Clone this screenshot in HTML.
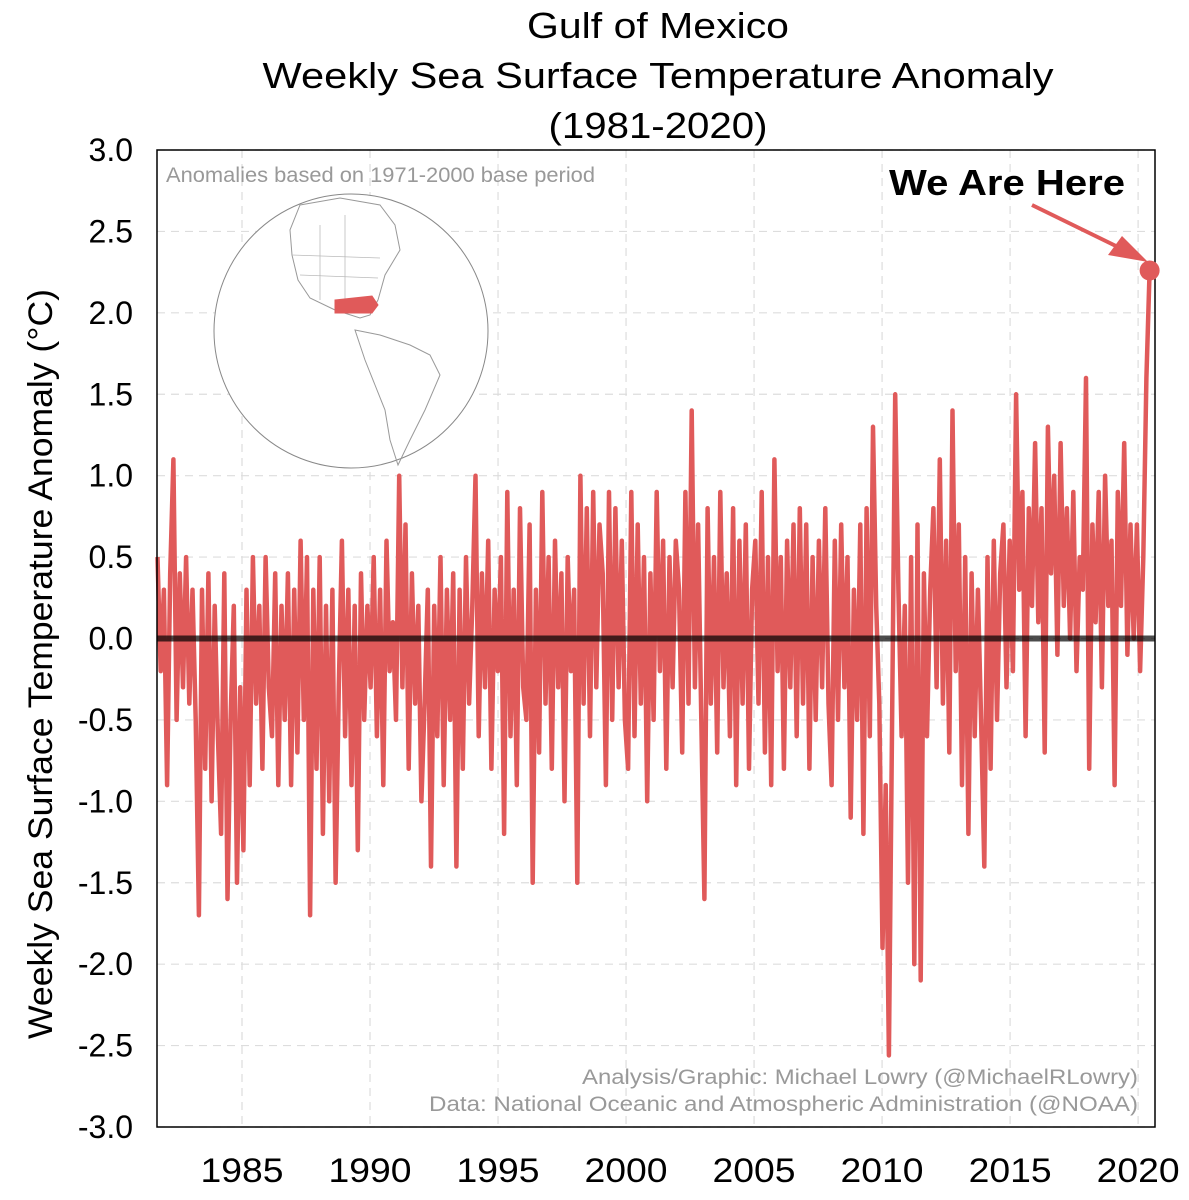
<!DOCTYPE html>
<html><head><meta charset="utf-8"><style>
body{margin:0;background:#fff;}
svg{display:block;font-family:"Liberation Sans",sans-serif;}
</style></head><body>
<svg id="chart" width="1189" height="1200">
<g font-size="36" text-anchor="middle" fill="#000">
<text x="658" y="38" textLength="262" lengthAdjust="spacingAndGlyphs">Gulf of Mexico</text>
<text x="658" y="88" textLength="791" lengthAdjust="spacingAndGlyphs">Weekly Sea Surface Temperature Anomaly</text>
<text x="658" y="138" textLength="219" lengthAdjust="spacingAndGlyphs">(1981-2020)</text>
</g>
<g id="grid"></g>
<g id="yticks"></g>
<g id="xticks"></g>
<text transform="translate(52,664) rotate(-90)" text-anchor="middle" font-size="34" textLength="750" lengthAdjust="spacingAndGlyphs">Weekly Sea Surface Temperature Anomaly (°C)</text>
<text x="166" y="182" font-size="21" fill="#999" textLength="429" lengthAdjust="spacingAndGlyphs">Anomalies based on 1971-2000 base period</text>
<g>
<circle cx="351" cy="331" r="137" fill="#fff" stroke="#888" stroke-width="1"/>
<path d="M300,205 L340,198 L380,205 L395,225 L400,250 L385,275 L378,300 L370,315 L360,318 L335,310 L310,298 L298,280 L292,255 L290,230 Z" fill="none" stroke="#999" stroke-width="1"/>
<path d="M292,255 L380,258 M300,275 L378,278 M320,225 L320,300 M345,215 L345,310" stroke="#bbb" stroke-width="0.8" fill="none"/>
<path d="M355,330 L380,335 L410,345 L430,355 L440,375 L425,410 L410,440 L398,465 L390,440 L385,410 L375,385 L365,360 Z" fill="none" stroke="#999" stroke-width="1"/>
<path d="M335,300 L372,296 L378,305 L372,313 L335,313 Z" fill="#e05a5a" stroke="#e05a5a"/>
</g>
<g id="series"></g>
<line id="zero" stroke="#000" stroke-opacity="0.7" stroke-width="6"/>
<rect x="157" y="150" width="998" height="977" fill="none" stroke="#000" stroke-width="1.5"/>
<g>
<text x="1007" y="195" font-size="36" font-weight="bold" text-anchor="middle" textLength="236" lengthAdjust="spacingAndGlyphs">We Are Here</text>
<line x1="1032" y1="205" x2="1120" y2="248" stroke="#e05a5a" stroke-width="4"/>
<polygon points="1148,262 1108,255 1122,236" fill="#e05a5a"/>
</g>
<circle id="dot" r="10" fill="#e05a5a"/>
<g font-size="21" fill="#999" text-anchor="end">
<text x="1138" y="1084" textLength="556" lengthAdjust="spacingAndGlyphs">Analysis/Graphic: Michael Lowry (@MichaelRLowry)</text>
<text x="1138" y="1111" textLength="709" lengthAdjust="spacingAndGlyphs">Data: National Oceanic and Atmospheric Administration (@NOAA)</text>
</g>
</svg>
<script>
const yTickValues=[3,2.5,2,1.5,1,0.5,0,-0.5,-1,-1.5,-2,-2.5,-3];
const yTickLabels=["3.0","2.5","2.0","1.5","1.0","0.5","0.0","-0.5","-1.0","-1.5","-2.0","-2.5","-3.0"];
const xTickYears=[1985,1990,1995,2000,2005,2010,2015,2020];
const startYear=1981.7, endYear=2020.45;
const anomalies=[0.5,-0.2,0.3,-0.9,
0.4,1.1,-0.5,0.4,-0.3,0.5,-0.4,0.3,
-0.5,-1.7,0.3,-0.8,0.4,-1.0,0.2,-0.6,
-1.2,0.4,-1.6,-0.5,0.2,-1.5,-0.3,-1.3,
0.3,-0.9,0.5,-0.4,0.2,-0.8,0.5,-0.3,
-0.6,0.4,-0.9,0.2,-0.5,0.4,-0.9,0.3,
-0.7,0.6,-0.5,0.5,-1.7,0.3,-0.8,0.5,
-1.2,0.2,-1.0,0.3,-1.5,-0.3,0.6,-0.6,
0.3,-0.9,0.2,-1.3,0.4,-0.5,0.2,-0.3,
0.5,-0.6,0.3,-0.9,0.6,-0.2,0.1,-0.5,
1.0,-0.3,0.7,-0.8,0.4,-0.4,0.2,-1.0,
-0.4,0.3,-1.4,0.2,-0.6,0.5,-0.9,0.3,
-0.5,0.4,-1.4,0.3,-0.8,0.5,-0.4,0.2,
1.0,-0.6,0.4,-0.3,0.6,-0.8,0.3,-0.2,
0.5,-1.2,0.9,-0.6,0.3,-0.9,0.8,-0.3,
-0.5,0.7,-1.5,0.3,-0.7,0.9,-0.4,0.5,
-0.8,0.6,-0.3,0.4,-1.0,0.5,-0.2,0.3,
-1.5,1.0,-0.4,0.8,-0.6,0.9,-0.3,0.7,
0.4,-0.9,0.9,-0.5,0.8,-0.3,0.6,-0.5,
-0.8,0.9,-0.6,0.7,-0.4,0.5,-1.0,0.4,
-0.5,0.9,-0.2,0.6,-0.8,0.5,-0.3,0.6,
0.3,-0.7,0.9,-0.4,1.4,-0.3,0.7,-0.5,
-1.6,0.8,-0.4,0.5,-0.7,0.9,-0.3,0.4,
-0.6,0.8,-0.9,0.6,-0.4,0.7,-0.8,0.3,
0.6,-0.4,0.9,-0.7,0.5,-0.9,1.1,-0.2,
0.5,-0.8,0.6,-0.3,0.7,-0.6,0.8,-0.4,
0.7,-0.8,0.5,-0.5,0.6,-0.3,0.8,-0.4,
-0.9,0.6,-0.5,0.7,-0.3,0.5,-1.1,0.3,
-0.5,0.7,-1.2,0.8,-0.6,1.3,0.2,-0.4,
-1.9,-0.9,-2.56,-0.5,1.5,0.3,-0.6,0.2,
-1.5,0.5,-2.0,0.7,-2.1,0.4,-0.6,0.3,
0.8,-0.3,1.1,-0.4,0.6,-0.7,1.4,-0.2,
0.7,-0.9,0.5,-1.2,0.4,-0.6,0.3,-0.5,
-1.4,0.5,-0.8,0.6,-0.5,0.4,0.7,-0.3,
0.6,-0.2,1.5,0.3,0.9,-0.6,0.8,0.2,
1.2,0.1,0.8,-0.7,1.3,0.4,1.0,-0.1,
1.2,0.2,0.8,0.0,0.9,-0.2,0.5,0.3,
1.6,-0.8,0.7,0.1,0.9,-0.3,1.0,0.2,
0.6,-0.9,0.9,0.2,1.2,-0.1,0.7,0.0,
0.7,-0.2,0.5,1.6,2.26];
const L=157,R=1155,T=150,B=1127,X0=1981.68,X1=2020.66;
const sx=v=>L+(v-X0)/(X1-X0)*(R-L);
const sy=v=>T+(3-v)/6*(B-T);
const NS="http://www.w3.org/2000/svg";
const mk=(t,a,p)=>{const e=document.createElementNS(NS,t);for(const k in a)e.setAttribute(k,a[k]);p.appendChild(e);return e;};
const grid=document.getElementById('grid'),yt=document.getElementById('yticks'),xt=document.getElementById('xticks');
yTickValues.forEach((v,i)=>{
 const g=mk('line',{x1:L,x2:R,y1:sy(v),y2:sy(v),stroke:'#ddd','stroke-dasharray':'8,6','stroke-width':1.2},grid);
 
 
 const t=mk('text',{x:133,y:sy(v)+11,'text-anchor':'end','font-size':32},yt);
 t.textContent=yTickLabels[i];
 
 
});
xTickYears.forEach(v=>{
 const g=mk('line',{x1:sx(v),x2:sx(v),y1:T,y2:B,stroke:'#ddd','stroke-dasharray':'8,6','stroke-width':1.2},grid);
 
 
 const t=mk('text',{x:sx(v),y:1182,'text-anchor':'middle','font-size':34,textLength:83,lengthAdjust:'spacingAndGlyphs'},xt);
 t.textContent=v;
 
 
});
const n=anomalies.length,step=(endYear-startYear)/(n-1);
const pts=anomalies.map((v,i)=>sx(startYear+i*step).toFixed(1)+','+sy(v).toFixed(1)).join(' ');
const pl=mk('polyline',{points:pts,fill:'none',stroke:'#e05a5a','stroke-width':4.5,'stroke-linejoin':'round'},document.getElementById('series'));


const z=document.getElementById('zero');
z.setAttribute('x1',L);z.setAttribute('x2',R);z.setAttribute('y1',sy(0));z.setAttribute('y2',sy(0));
const d=document.getElementById('dot');
d.setAttribute('cx',sx(endYear));d.setAttribute('cy',sy(anomalies[n-1]));
</script>
</body></html>
